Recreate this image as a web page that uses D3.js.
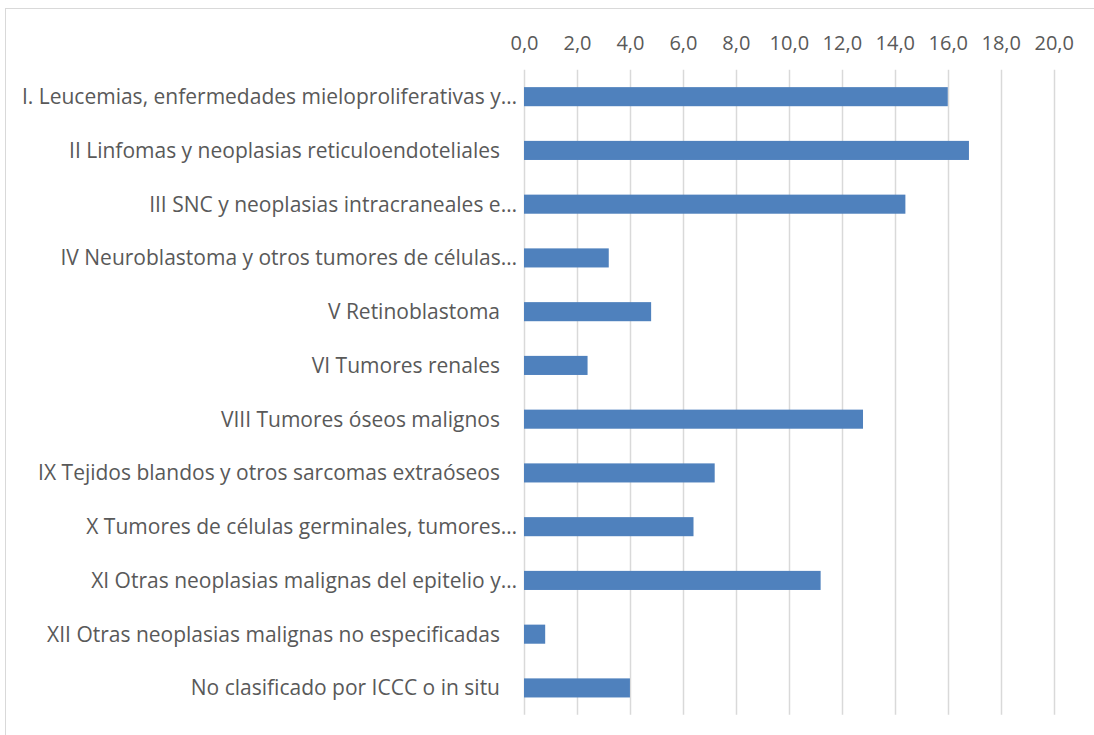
<!DOCTYPE html>
<html>
<head>
<meta charset="utf-8">
<script src="https://cdn.jsdelivr.net/npm/d3@7"></script>
<style>
  body { margin: 0; background: #fff; }
  svg text { font-family: "Open Sans", Lato, sans-serif; fill: #595959; }
</style>
</head>
<body>
<div id="chart"></div>
<script>
const categories = [
  "I. Leucemias, enfermedades mieloproliferativas y…",
  "II Linfomas y neoplasias reticuloendoteliales",
  "III SNC y neoplasias intracraneales e…",
  "IV Neuroblastoma y otros tumores de células…",
  "V Retinoblastoma",
  "VI Tumores renales",
  "VIII Tumores óseos malignos",
  "IX Tejidos blandos y otros sarcomas extraóseos",
  "X Tumores de células germinales, tumores…",
  "XI Otras neoplasias malignas del epitelio y…",
  "XII Otras neoplasias malignas no especificadas",
  "No clasificado por ICCC o in situ"
];
const values = [16.0, 16.8, 14.4, 3.2, 4.8, 2.4, 12.8, 7.2, 6.4, 11.2, 0.8, 4.0];
const tickValues = [0, 2, 4, 6, 8, 10, 12, 14, 16, 18, 20];

const W = 1094, H = 735;
const margin = {top: 70, right: 40, bottom: 20, left: 524};

function drawBarChart() {
    d3.select("#chart").select("svg").remove();

    const svg = d3.select("#chart")
        .append("svg")
        .attr("width", W)
        .attr("height", H);

    // chart border
    svg.append("rect")
        .attr("x", 5.5).attr("y", 8.5)
        .attr("width", W + 10).attr("height", H + 10)
        .attr("fill", "none")
        .attr("stroke", "#d9d9d9")
        .attr("stroke-width", 1);

    const xScale = d3.scaleLinear()
        .domain([0, 20])
        .range([margin.left, 1053.7]);

    const yScale = d3.scaleBand()
        .domain(categories)
        .range([69.8, 714.8])
        .paddingInner(0.645)
        .paddingOuter(0.3225);

    // gridlines
    svg.append("g")
        .selectAll("line")
        .data(tickValues)
        .join("line")
        .attr("x1", d => Math.round(xScale(d)) + 0.5)
        .attr("x2", d => Math.round(xScale(d)) + 0.5)
        .attr("y1", 69.8)
        .attr("y2", 714.8)
        .attr("stroke", "#d9d9d9")
        .attr("stroke-width", 1.5);

    // top axis labels
    const axis = svg.append("g")
        .attr("transform", "translate(0,50)")
        .call(d3.axisTop(xScale)
            .tickValues(tickValues)
            .tickSize(0)
            .tickPadding(0)
            .tickFormat(d => d3.format(".1f")(d).replace(".", ",")));
    axis.select(".domain").remove();
    axis.selectAll("text")
        .attr("font-size", 20)
        .attr("dy", "0")
        .style("fill", "#595959")
        .style("font-family", "'Open Sans', Lato, sans-serif");

    // bars
    svg.append("g")
        .selectAll("rect")
        .data(categories)
        .join("rect")
        .attr("x", xScale(0))
        .attr("y", d => yScale(d))
        .attr("width", (d, i) => xScale(values[i]) - xScale(0))
        .attr("height", yScale.bandwidth())
        .attr("fill", "#4f81bd");

    // category labels
    svg.append("g")
        .selectAll("text")
        .data(categories)
        .join("text")
        .attr("x", d => d.endsWith("…") ? 517 : 500)
        .attr("y", d => yScale(d) + yScale.bandwidth() / 2)
        .attr("dy", "0.35em")
        .attr("text-anchor", "end")
        .attr("font-size", 21)
        .text(d => d);
}

drawBarChart();
</script>
</body>
</html>
